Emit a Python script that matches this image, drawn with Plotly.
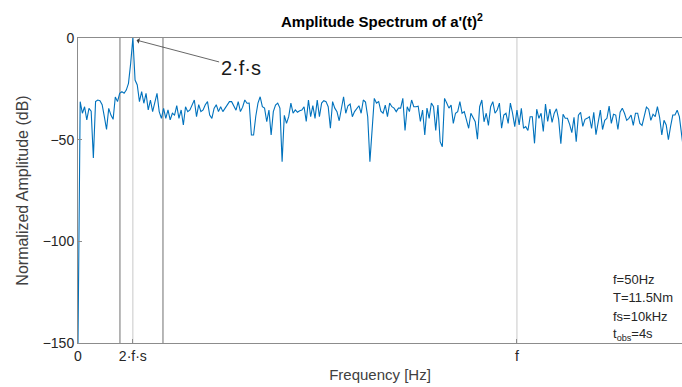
import numpy as np
import plotly.graph_objects as go

# ---- data ----
df = 0.25  # frequency resolution [Hz]
amplitude_db = [
    -150, -31.3, -37, -33.8, -40.3, -34.6, -36, -59, -31.3, -30.5,
    -30.8, -32.8, -38.7, -45, -34.6, -37.9, -40, -29, -31.3, -27.2,
    -26.4, -27.2, -25.6, -22.3, -12.5, 0, -20.7, -23.1, -31.3, -26.4,
    -32.1, -27.2, -35.4, -30.5, -36.2, -31.3, -27.2, -36.2, -39.5, -34.6,
    -39.5, -35.4, -40.3, -37, -37.9, -33.3, -39.5, -35.4, -42.8, -33.8,
    -36.2, -35.4, -32.8, -30.5, -38.7, -32.8, -36.2, -35.4, -32.8, -31.3,
    -37.9, -39.5, -34.6, -32.8, -36.2, -33.8, -36.2, -34.6, -32.8, -31.3,
    -31.3, -33.8, -35.5, -31.3, -36.2, -34, -30.5, -32.1, -32, -47.7,
    -47.7, -38.5, -32, -28.9, -33.8, -34.5, -41.2, -35.4, -47.7, -36.2,
    -33, -32, -34.5, -60.8, -38, -42, -38.7, -32, -37, -35.4,
    -36.5, -35.8, -35.4, -33.8, -41, -30.5, -38.7, -33.3, -39.5, -30.5,
    -38.7, -32, -30.8, -31.3, -33.8, -44.4, -31.3, -34.5, -36.2, -40.7,
    -33.8, -28.9, -37, -33.3, -32.5, -38.7, -36.2, -34.6, -33.3, -37,
    -30.5, -31.5, -38.7, -60.8, -42, -29.7, -32, -31.3, -36, -37,
    -33, -38.7, -32, -33.8, -34.5, -36.2, -34.5, -34.5, -29.7, -45.5,
    -33.8, -36.2, -30.5, -33.8, -33.8, -33.5, -41, -35.4, -47.7, -34.5,
    -39.5, -32, -33.8, -45.5, -33, -51, -53.5, -29.7, -32, -34.5,
    -33, -42, -37, -36.2, -31.3, -37, -36.2, -40, -44.4, -37,
    -39.5, -41.2, -49.8, -33.8, -30.5, -41.2, -37, -43, -33.8, -31.3,
    -37, -35.4, -32, -44.4, -37.9, -37, -42, -32, -37, -43.6,
    -35.4, -42.8, -34.6, -44.4, -43.6, -45.5, -38.7, -38.7, -51.8, -35,
    -39.5, -37, -46, -32.5, -41, -35, -41.5, -37, -34.8, -40,
    -52, -37.5, -39.5, -39.5, -42.5, -46.5, -39, -51, -38, -36.5,
    -43.5, -40, -39.5, -38.7, -44.5, -36.5, -47.5, -42, -35.5, -45,
    -40.5, -39.5, -33.5, -42, -37.5, -37.9, -45, -36.5, -34.5, -37,
    -40.5, -39.5, -37.9, -43, -37, -37, -42, -43, -38.7, -34,
    -35, -40.5, -37.5, -38.7, -33.8, -39, -47.7, -40.5, -42.8, -50,
    -43.5, -37.9, -37.9, -35.5, -38.7, -48.5, -56,
]
freq = np.arange(len(amplitude_db)) * df

x_tick_vals = [0, 6.25, 50]
x_tick_text = ["0", "2·f·s", "f"]
y_tick_vals = [-150, -100, -50, 0]
y_tick_text = ["−150", "−100", "−50", "0"]
band_lines = [4.78, 9.68]       # darker vertical markers
grid_lines = [6.25, 50]          # light grid lines at 2fs and f
info_lines = ["f=50Hz", "T=11.5Nm", "fs=10kHz", "t<sub>obs</sub>=4s"]

FONT = "Arial, Liberation Sans, sans-serif"
fig = go.Figure()

fig.add_trace(go.Scatter(x=freq, y=amplitude_db, mode="lines",
                         line=dict(color="#0072BD", width=1.1),
                         hoverinfo="skip", showlegend=False))

shapes = []
for v in grid_lines:
    shapes.append(dict(type="line", xref="x", yref="paper", x0=v, x1=v, y0=0, y1=1,
                       line=dict(color="#c8c8c8", width=1), layer="below"))
for v in band_lines:
    shapes.append(dict(type="line", xref="x", yref="paper", x0=v, x1=v, y0=0, y1=1,
                       line=dict(color="#707070", width=1), layer="below"))

annotations = [
    dict(x=6.45, y=-0.8, xref="x", yref="y", ax=106, ay=28,
         text="2·f·s", showarrow=True, arrowhead=1, arrowsize=1.2, arrowwidth=0.8,
         arrowcolor="#404040", standoff=2,
         font=dict(family=FONT, size=20, color="#1a1a1a")),
]
info_y = [279, 297, 316, 334]
for txt, yp in zip(info_lines, info_y):
    annotations.append(dict(x=(611 - 78) / 604, y=(343 - yp) / 305, xref="paper", yref="paper",
                            text=txt, showarrow=False, xanchor="left", yanchor="middle",
                            font=dict(family=FONT, size=13, color="#262626")))

fig.update_layout(
    width=682, height=387,
    margin=dict(l=78, r=0, t=38, b=44),
    paper_bgcolor="white", plot_bgcolor="white",
    font=dict(family=FONT, color="#262626"),
    title=dict(text="<b>Amplitude Spectrum of a'(t)<sup>2</sup></b>",
               x=(382) / 682, xanchor="center", y=1 - 22 / 387, yanchor="middle",
               font=dict(family=FONT, size=15, color="#000000")),
    shapes=shapes,
    annotations=annotations,
    xaxis=dict(range=[0, 68.8], tickvals=x_tick_vals, ticktext=x_tick_text,
               showgrid=False, zeroline=False, showline=True, linecolor="#8c8c8c",
               linewidth=1, mirror=True, ticks="inside", ticklen=4, tickcolor="#8c8c8c",
               tickfont=dict(size=14, color="#262626"),
               title=dict(text="Frequency [Hz]", font=dict(size=15, color="#404040"), standoff=6)),
    yaxis=dict(range=[-150, 0], tickvals=y_tick_vals, ticktext=y_tick_text,
               showgrid=False, zeroline=False, showline=True, linecolor="#8c8c8c",
               linewidth=1, ticks="inside", ticklen=4, tickcolor="#8c8c8c",
               tickfont=dict(size=14, color="#262626"),
               title=dict(text="Normalized Amplitude (dB)", font=dict(size=16, color="#404040"), standoff=10)),
)

fig.write_html("out.html")
